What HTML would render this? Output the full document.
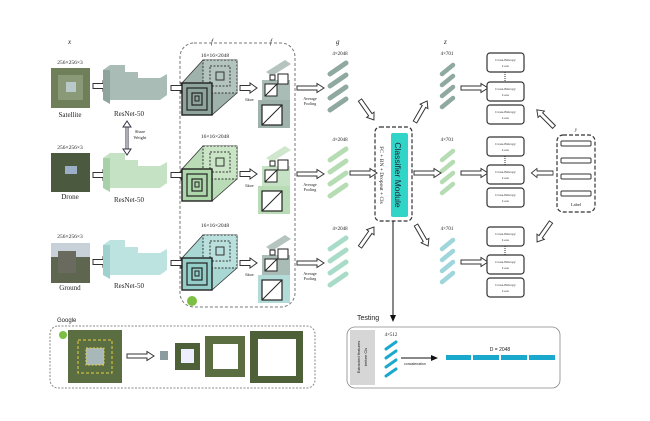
<!DOCTYPE html>
<html><head><meta charset="utf-8"><style>
html,body{margin:0;padding:0;background:#fff;}
svg{display:block;}
text{font-family:"Liberation Serif",serif;fill:#222;}
.s{font-family:"Liberation Sans",sans-serif;}
</style></head><body>
<svg width="650" height="421" viewBox="0 0 650 421" xmlns="http://www.w3.org/2000/svg">
<defs>
<marker id="ah" markerWidth="8" markerHeight="8" refX="6" refY="4" orient="auto"><path d="M0,1 L7,4 L0,7 z" fill="#111"/></marker>
<g id="harr"><path d="M0,-2.5 H10 V-5 L17,0 L10,5 V2.5 H0 Z" fill="#fff" stroke="#333" stroke-width="1"/></g>
<g id="larr"><path d="M0,-2 H20 V-4.5 L27,0 L20,4.5 V2 H0 Z" fill="#fff" stroke="#333" stroke-width="1"/></g>
<g id="loss">
<rect x="0" y="0" width="37" height="19" rx="3" fill="#fff" stroke="#333" stroke-width="1.2"/>
<text x="18.5" y="8" font-size="3.5" text-anchor="middle">Cross-Entropy</text>
<text x="18.5" y="14" font-size="3.5" text-anchor="middle">Loss</text>
</g>
</defs>

<!-- labels top -->
<text x="68" y="44" font-size="7" font-style="italic">x</text>
<text x="211" y="44" font-size="7" font-style="italic">f</text>
<text x="270" y="44" font-size="7" font-style="italic">f</text>
<text x="336" y="44" font-size="7" font-style="italic">g</text>
<text x="444" y="44" font-size="7" font-style="italic">z</text>

<!-- dashed frame f -->
<rect x="180" y="43" width="115" height="264" rx="14" fill="none" stroke="#777" stroke-width="1" stroke-dasharray="3,2"/>
<circle cx="192" cy="301" r="5" fill="#7bc043"/>

<!-- rows -->
<g id="row1">
<text x="70" y="64" font-size="5.5" text-anchor="middle">256×256×3</text>
<rect x="51" y="68" width="39" height="40" fill="#6f7f5a"/>
<rect x="58" y="75" width="25" height="25" fill="#8a9a78"/>
<rect x="66" y="82" width="10" height="10" fill="#b9c8c8"/>
<text x="70" y="117" font-size="7" text-anchor="middle">Satellite</text>
<use href="#harr" x="93" y="86"/>
<path d="M103,70 L110,65 L125,65 L125,72 L138,72 L138,78 L160,78 L167,74 L167,95 L160,100 L103,100 Z" fill="#a9bdb6"/>
<path d="M103,70 L103,100 L110,104 L110,70 Z" fill="#8ea59d"/>
<text x="129" y="116" font-size="7" text-anchor="middle">ResNet-50</text>
<use href="#harr" x="171" y="88"/>
<text x="215" y="57" font-size="5.5" text-anchor="middle">16×16×2048</text>
<path d="M182,83 L203,60 L237,60 L237,93 L212,115 L182,115 Z" fill="#9fb3ac" stroke="#333" stroke-width="0.8"/>
<rect x="203" y="60" width="34" height="33" fill="#b3c4be" stroke="#333" stroke-dasharray="2,1.5"/>
<rect x="210" y="66" width="20" height="20" fill="none" stroke="#333" stroke-dasharray="2,1.5"/>
<rect x="216" y="72" width="8" height="8" fill="none" stroke="#333"/>
<rect x="182" y="83" width="30" height="32" fill="#8ea49c" stroke="#222" stroke-width="1.4"/>
<rect x="187" y="88" width="20" height="22" fill="none" stroke="#222" stroke-width="1.2"/>
<rect x="192" y="93" width="10" height="12" fill="none" stroke="#222" stroke-width="1.2"/>
<rect x="195" y="96" width="4" height="5" fill="none" stroke="#222"/>
<use href="#harr" x="240" y="88"/>
<text x="245" y="101" font-size="4" class="s">Slice</text>
<path d="M258,100 L290,100 L290,128 L258,128 Z" fill="#9fb3ac"/>
<rect x="262" y="105" width="20" height="20" fill="#fff" stroke="#222" stroke-width="1.2"/>
<line x1="262" y1="125" x2="282" y2="105" stroke="#222"/>
<path d="M262,80 L290,80 L290,100 L262,100 Z" fill="#a9bdb6"/>
<rect x="265" y="84" width="12" height="12" fill="#fff" stroke="#222"/>
<line x1="265" y1="96" x2="277" y2="84" stroke="#222"/>
<rect x="278" y="74" width="10" height="10" fill="#fff" stroke="#222"/>
<path d="M266,72 L285,60 L291,64 L272,76 Z" fill="#b6c4c0"/>
<rect x="270" y="75" width="5" height="5" fill="#fff" stroke="#222"/>
<use href="#larr" x="297" y="88"/>
<text x="310" y="100" font-size="4" text-anchor="middle">Average</text>
<text x="310" y="105" font-size="4" text-anchor="middle">Pooling</text>
<text x="340" y="55" font-size="5" text-anchor="middle">4×2048</text>
<g stroke="#8fa8a0" stroke-width="5" stroke-linecap="round">
<line x1="330" y1="74" x2="346" y2="63"/><line x1="330" y1="86" x2="346" y2="75"/><line x1="330" y1="98" x2="346" y2="87"/><line x1="330" y1="110" x2="346" y2="99"/></g>
<text x="447" y="55" font-size="5" text-anchor="middle">4×701</text>
<g stroke="#8fa8a0" stroke-width="4.5" stroke-linecap="round">
<line x1="442" y1="74" x2="453" y2="65"/><line x1="442" y1="85" x2="453" y2="76"/><line x1="442" y1="96" x2="453" y2="87"/><line x1="442" y1="107" x2="453" y2="98"/></g>
</g>

<g transform="translate(0,86)">
<text x="70" y="63" font-size="5.5" text-anchor="middle">256×256×3</text>
<rect x="51" y="67" width="39" height="39" fill="#4b5a3e"/>
<rect x="65" y="80" width="12" height="8" fill="#9bb0c8"/>
<text x="70" y="113" font-size="7" text-anchor="middle">Drone</text>
<use href="#harr" x="93" y="89"/>
<path d="M103,72 L110,67 L125,67 L125,74 L138,74 L138,80 L160,80 L167,76 L167,97 L160,102 L103,102 Z" fill="#c5e3c4"/>
<path d="M103,72 L103,102 L110,106 L110,72 Z" fill="#a9d1a9"/>
<text x="129" y="116" font-size="7" text-anchor="middle">ResNet-50</text>
<use href="#harr" x="171" y="89"/>
<text x="215" y="52" font-size="5.5" text-anchor="middle">16×16×2048</text>
<path d="M182,83 L203,60 L237,60 L237,93 L212,115 L182,115 Z" fill="#b9dcb7" stroke="#333" stroke-width="0.8"/>
<rect x="203" y="60" width="34" height="33" fill="#c9e5c6" stroke="#333" stroke-dasharray="2,1.5"/>
<rect x="210" y="66" width="20" height="20" fill="none" stroke="#333" stroke-dasharray="2,1.5"/>
<rect x="216" y="72" width="8" height="8" fill="none" stroke="#333"/>
<rect x="182" y="83" width="30" height="32" fill="#add6ab" stroke="#222" stroke-width="1.4"/>
<rect x="187" y="88" width="20" height="22" fill="none" stroke="#222" stroke-width="1.2"/>
<rect x="192" y="93" width="10" height="12" fill="none" stroke="#222" stroke-width="1.2"/>
<rect x="195" y="96" width="4" height="5" fill="none" stroke="#222"/>
<use href="#harr" x="240" y="88"/>
<text x="245" y="101" font-size="4" class="s">Slice</text>
<path d="M258,100 L290,100 L290,128 L258,128 Z" fill="#b9dcb7"/>
<rect x="262" y="105" width="20" height="20" fill="#fff" stroke="#222" stroke-width="1.2"/>
<line x1="262" y1="125" x2="282" y2="105" stroke="#222"/>
<path d="M262,80 L290,80 L290,100 L262,100 Z" fill="#c5e3c4"/>
<rect x="265" y="84" width="12" height="12" fill="#fff" stroke="#222"/>
<line x1="265" y1="96" x2="277" y2="84" stroke="#222"/>
<rect x="278" y="74" width="10" height="10" fill="#fff" stroke="#222"/>
<path d="M266,72 L285,60 L291,64 L272,76 Z" fill="#cfe7cd"/>
<rect x="270" y="75" width="5" height="5" fill="#fff" stroke="#222"/>
<use href="#larr" x="297" y="88"/>
<text x="310" y="100" font-size="4" text-anchor="middle">Average</text>
<text x="310" y="105" font-size="4" text-anchor="middle">Pooling</text>
<text x="340" y="55" font-size="5" text-anchor="middle">4×2048</text>
<g stroke="#b5dcb3" stroke-width="5" stroke-linecap="round">
<line x1="330" y1="74" x2="346" y2="63"/><line x1="330" y1="86" x2="346" y2="75"/><line x1="330" y1="98" x2="346" y2="87"/><line x1="330" y1="110" x2="346" y2="99"/></g>
<text x="447" y="55" font-size="5" text-anchor="middle">4×701</text>
<g stroke="#b5dcb3" stroke-width="4.5" stroke-linecap="round">
<line x1="442" y1="74" x2="453" y2="65"/><line x1="442" y1="85" x2="453" y2="76"/><line x1="442" y1="96" x2="453" y2="87"/><line x1="442" y1="107" x2="453" y2="98"/></g>
</g>

<g transform="translate(0,175)">
<text x="70" y="63" font-size="5.5" text-anchor="middle">256×256×3</text>
<rect x="51" y="68" width="39" height="40" fill="#5e6650"/>
<rect x="51" y="68" width="39" height="14" fill="#c8d0d8"/>
<rect x="58" y="76" width="18" height="22" fill="#6a6b5e"/>
<text x="70" y="115" font-size="7" text-anchor="middle">Ground</text>
<use href="#harr" x="93" y="87"/>
<path d="M103,70 L110,65 L125,65 L125,72 L138,72 L138,78 L160,78 L167,74 L167,95 L160,100 L103,100 Z" fill="#bde3e0"/>
<path d="M103,70 L103,100 L110,104 L110,70 Z" fill="#9fd2ce"/>
<text x="129" y="113" font-size="7" text-anchor="middle">ResNet-50</text>
<use href="#harr" x="171" y="88"/>
<text x="215" y="52" font-size="5.5" text-anchor="middle">16×16×2048</text>
<path d="M182,83 L203,60 L237,60 L237,93 L212,115 L182,115 Z" fill="#a9d8d4" stroke="#333" stroke-width="0.8"/>
<rect x="203" y="60" width="34" height="33" fill="#b9e0dc" stroke="#333" stroke-dasharray="2,1.5"/>
<rect x="210" y="66" width="20" height="20" fill="none" stroke="#333" stroke-dasharray="2,1.5"/>
<rect x="216" y="72" width="8" height="8" fill="none" stroke="#333"/>
<rect x="182" y="83" width="30" height="32" fill="#95cdc8" stroke="#222" stroke-width="1.4"/>
<rect x="187" y="88" width="20" height="22" fill="none" stroke="#222" stroke-width="1.2"/>
<rect x="192" y="93" width="10" height="12" fill="none" stroke="#222" stroke-width="1.2"/>
<rect x="195" y="96" width="4" height="5" fill="none" stroke="#222"/>
<use href="#harr" x="240" y="88"/>
<text x="245" y="101" font-size="4" class="s">Slice</text>
<path d="M258,100 L290,100 L290,128 L258,128 Z" fill="#b3dcd8"/>
<rect x="262" y="105" width="20" height="20" fill="#fff" stroke="#222" stroke-width="1.2"/>
<line x1="262" y1="125" x2="282" y2="105" stroke="#222"/>
<path d="M262,80 L290,80 L290,100 L262,100 Z" fill="#a9bdb6"/>
<rect x="265" y="84" width="12" height="12" fill="#fff" stroke="#222"/>
<line x1="265" y1="96" x2="277" y2="84" stroke="#222"/>
<rect x="278" y="74" width="10" height="10" fill="#fff" stroke="#222"/>
<path d="M266,72 L285,60 L291,64 L272,76 Z" fill="#b6c4c0"/>
<rect x="270" y="75" width="5" height="5" fill="#fff" stroke="#222"/>
<use href="#larr" x="297" y="88"/>
<text x="310" y="100" font-size="4" text-anchor="middle">Average</text>
<text x="310" y="105" font-size="4" text-anchor="middle">Pooling</text>
<text x="340" y="55" font-size="5" text-anchor="middle">4×2048</text>
<g stroke="#a9dcc8" stroke-width="5" stroke-linecap="round">
<line x1="330" y1="74" x2="346" y2="63"/><line x1="330" y1="86" x2="346" y2="75"/><line x1="330" y1="98" x2="346" y2="87"/><line x1="330" y1="110" x2="346" y2="99"/></g>
<text x="447" y="55" font-size="5" text-anchor="middle">4×701</text>
<g stroke="#9fd6dc" stroke-width="4.5" stroke-linecap="round">
<line x1="442" y1="74" x2="453" y2="65"/><line x1="442" y1="85" x2="453" y2="76"/><line x1="442" y1="96" x2="453" y2="87"/><line x1="442" y1="107" x2="453" y2="98"/></g>
</g>

<!-- share weight -->
<line x1="127" y1="124" x2="127" y2="152" stroke="#334" stroke-width="3"/>
<line x1="127" y1="124" x2="127" y2="152" stroke="#fff" stroke-width="1.2"/>
<path d="M123,127 L127,121 L131,127 Z M123,149 L127,155 L131,149 Z" fill="#fff" stroke="#334"/>
<text x="140" y="133" font-size="4.5" text-anchor="middle">Share</text>
<text x="140" y="139" font-size="4.5" text-anchor="middle">Weight</text>

<!-- classifier -->
<rect x="375" y="127" width="37" height="94" rx="5" fill="#fff" stroke="#333" stroke-width="1.2" stroke-dasharray="4,2"/>
<rect x="391" y="133" width="17" height="84" rx="2" fill="#30d5c8"/>
<text transform="translate(395,175) rotate(90)" font-size="8.5" text-anchor="middle" class="s" style="fill:#223">Classifier Module</text>
<text transform="translate(380,175) rotate(90)" font-size="5.5" text-anchor="middle">FC + BN + Dropout + Cls</text>

<!-- arrows into/out classifier -->
<use href="#larr" transform="translate(360,100) rotate(55) scale(0.9,1)"/>
<use href="#larr" x="350" y="173"/>
<use href="#larr" transform="translate(360,247) rotate(-55) scale(0.9,1)"/>
<use href="#larr" transform="translate(415,122) rotate(-60) scale(0.9,1)"/>
<use href="#larr" x="414" y="173"/>
<use href="#larr" transform="translate(416,225) rotate(60) scale(0.9,1)"/>

<!-- z to loss -->
<use href="#larr" x="461" y="88"/>
<use href="#larr" x="461" y="173"/>
<use href="#larr" x="461" y="262"/>

<!-- loss boxes -->
<use href="#loss" x="487" y="53"/><use href="#loss" x="487" y="82"/><use href="#loss" x="487" y="105"/>
<use href="#loss" x="487" y="137"/><use href="#loss" x="487" y="165"/><use href="#loss" x="487" y="188"/>
<use href="#loss" x="487" y="227"/><use href="#loss" x="487" y="255"/><use href="#loss" x="487" y="278"/>
<g stroke="#333" stroke-dasharray="1,1"><line x1="505" y1="72" x2="505" y2="82"/><line x1="505" y1="156" x2="505" y2="165"/><line x1="505" y1="246" x2="505" y2="255"/></g>

<!-- label box -->
<text x="576" y="131" font-size="5" font-style="italic" text-anchor="middle">y</text>
<rect x="557" y="135" width="38" height="77" rx="6" fill="#fff" stroke="#333" stroke-width="1.2" stroke-dasharray="4,2"/>
<g fill="#fff" stroke="#333" stroke-width="1">
<rect x="561" y="141" width="30" height="5" rx="1"/><rect x="561" y="158" width="30" height="5" rx="1"/><rect x="561" y="174" width="30" height="5" rx="1"/><rect x="561" y="191" width="30" height="5" rx="1"/></g>
<text x="576" y="206" font-size="4.5" text-anchor="middle">Label</text>
<use href="#larr" transform="translate(554,127) rotate(-135) scale(0.9,1)"/>
<use href="#larr" transform="translate(553,173) rotate(180) scale(0.8,1)"/>
<use href="#larr" transform="translate(551,222) rotate(125) scale(0.9,1)"/>

<!-- test line -->
<line x1="393" y1="221" x2="393" y2="321" stroke="#111" stroke-width="1" marker-end="url(#ah)"/>

<!-- Google panel -->
<text x="57" y="322" font-size="6" class="s">Google</text>
<rect x="50" y="326" width="265" height="62" rx="8" fill="#fff" stroke="#888" stroke-dasharray="2,1.5"/>
<rect x="68" y="330" width="54" height="53" fill="#5a6e42"/>
<rect x="78" y="340" width="34" height="33" fill="none" stroke="#e8d040" stroke-dasharray="3,2"/>
<rect x="86" y="348" width="18" height="17" fill="#a8b8b8" stroke="#e8d040" stroke-dasharray="2,1.5"/>
<circle cx="63" cy="335" r="4" fill="#7bc043"/>
<use href="#larr" x="127" y="356"/>
<rect x="160" y="351" width="8" height="9" fill="#8a9ca0"/>
<rect x="175" y="343" width="25" height="27" fill="#4e6038"/><rect x="181" y="349" width="13" height="14" fill="#eef"/>
<rect x="205" y="336" width="40" height="41" fill="#5a6e42"/><rect x="213" y="344" width="25" height="25" fill="#fff"/>
<rect x="250" y="331" width="53" height="52" fill="#4e6038"/><rect x="258" y="339" width="38" height="37" fill="#fff"/>

<!-- Testing panel -->
<text x="357" y="320" font-size="7" class="s">Testing</text>
<rect x="347" y="327" width="213" height="61" rx="8" fill="#fff" stroke="#888" stroke-width="0.8"/>
<rect x="350" y="330" width="25" height="55" fill="#d6d6d6"/>
<text transform="translate(360,357) rotate(-90)" font-size="4" text-anchor="middle" class="s">Extracted features</text>
<text transform="translate(367,357) rotate(-90)" font-size="4" text-anchor="middle" class="s">before Cls</text>
<text x="391" y="336" font-size="5" text-anchor="middle">4×512</text>
<g stroke="#1aa8cc" stroke-width="3" stroke-linecap="round">
<line x1="386" y1="349" x2="396" y2="342"/><line x1="386" y1="358" x2="396" y2="351"/><line x1="386" y1="367" x2="396" y2="360"/><line x1="386" y1="376" x2="396" y2="369"/></g>
<line x1="401" y1="358" x2="437" y2="358" stroke="#111" stroke-width="1" marker-end="url(#ah)"/>
<text x="404" y="365" font-size="3.5" class="s">concatenation</text>
<text x="500" y="351" font-size="5" text-anchor="middle" class="s">D = 2048</text>
<g fill="#1aa8cc"><rect x="446" y="355" width="25" height="5"/><rect x="473" y="355" width="26" height="5"/><rect x="501" y="355" width="26" height="5"/><rect x="529" y="355" width="26" height="5"/></g>
</svg>
</body></html>
